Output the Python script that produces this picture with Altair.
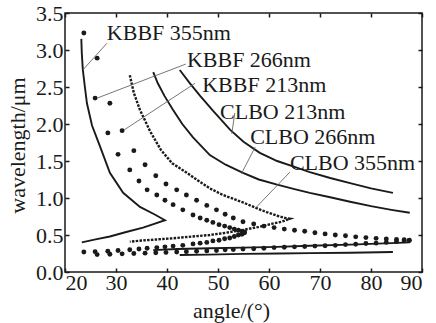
import altair as alt
import pandas as pd

# ---------------- values (angle in degrees, wavelength in µm) ----------------
# KBBF 355nm (solid): idler branch down to the degeneracy point, then signal branch back
kbbf355_angle = [23.2, 23.3, 23.5, 23.9, 24.3, 25.3, 26.9, 28.8, 31.4, 34.7, 37.5, 39.6,
                 37.5, 35.3, 32.0, 28.8, 26.0, 23.3]
kbbf355_wl = [3.15, 2.95, 2.73, 2.50, 2.28, 1.98, 1.69, 1.34, 1.07, 0.88, 0.78, 0.70,
              0.65, 0.60, 0.54, 0.48, 0.44, 0.40]

# KBBF 266nm (dots)
kbbf266_angle = [23.7, 25.9, 28.4, 30.4, 32.7, 34.5, 36.1, 38.0, 39.6, 41.2, 43.1, 45.1,
                 46.5, 47.8, 49.0, 50.2, 51.3, 52.3, 53.2, 54.0, 54.7, 55.2]
kbbf266_wl_upper = [3.23, 2.35, 1.88, 1.59, 1.38, 1.23, 1.11, 1.04, 0.97, 0.91, 0.84, 0.77,
                    0.73, 0.70, 0.67, 0.64, 0.62, 0.60, 0.58, 0.565, 0.55, 0.54]
kbbf266_wl_lower = [0.27, 0.275, 0.28, 0.29, 0.30, 0.31, 0.32, 0.33, 0.34, 0.35, 0.36, 0.38,
                    0.39, 0.40, 0.42, 0.43, 0.45, 0.46, 0.48, 0.50, 0.51, 0.53]

# KBBF 213nm (dots)
kbbf213_angle = [26.3, 28.8, 31.2, 33.5, 35.7, 37.8, 39.8, 41.9, 43.8, 45.8, 47.8, 49.7,
                 51.4, 53.0, 54.9, 57.0, 59.0, 61.0, 63.0, 65.0, 67.0, 69.0, 71.0, 73.0,
                 75.0, 77.0, 79.0, 81.0, 83.0, 85.0, 86.5, 87.5]
kbbf213_wl_upper = [2.89, 2.28, 1.91, 1.64, 1.45, 1.30, 1.19, 1.11, 1.04, 0.97, 0.90, 0.84,
                    0.78, 0.73, 0.68, 0.65, 0.62, 0.60, 0.58, 0.565, 0.55, 0.53, 0.515, 0.50,
                    0.49, 0.475, 0.465, 0.455, 0.445, 0.44, 0.435, 0.43]
kbbf213_wl_lower = [0.235, 0.24, 0.245, 0.25, 0.255, 0.26, 0.265, 0.27, 0.275, 0.28, 0.285, 0.29,
                    0.30, 0.305, 0.31, 0.315, 0.32, 0.33, 0.335, 0.34, 0.345, 0.35, 0.355, 0.36,
                    0.37, 0.375, 0.385, 0.39, 0.40, 0.41, 0.42, 0.425]

# CLBO 355nm (fine dashed): upper branch to the tip, then lower branch back
clbo355_angle = [32.7, 33.5, 34.7, 36.7, 38.8, 41.0, 43.9, 46.0, 48.4, 51.0, 54.9, 57.3,
                 59.5, 61.6, 63.2, 64.1,
                 62.5, 60.5, 58.0, 55.0, 51.5, 48.4, 45.0, 41.0, 38.0, 35.0, 32.7]
clbo355_wl = [2.66, 2.42, 2.19, 1.90, 1.65, 1.47, 1.34, 1.24, 1.13, 1.04, 0.94, 0.87,
              0.81, 0.76, 0.73, 0.72,
              0.68, 0.65, 0.61, 0.57, 0.53, 0.50, 0.48, 0.455, 0.44, 0.425, 0.41]

# CLBO 266nm (solid)
clbo266_angle_upper = [37.3, 38.2, 39.5, 41.2, 43.0, 45.1, 48.4, 51.5, 54.9, 58.0, 61.6, 65.0,
                       68.0, 72.0, 75.9, 80.0, 84.0, 87.6]
clbo266_wl_upper = [2.70, 2.55, 2.38, 2.19, 2.00, 1.82, 1.58, 1.45, 1.34, 1.25, 1.18, 1.12,
                    1.07, 1.01, 0.95, 0.89, 0.84, 0.80]
clbo266_angle_lower = [37.3, 42.0, 48.4, 54.9, 61.6, 68.0, 75.9, 80.0, 84.0, 87.6]
clbo266_wl_lower = [0.295, 0.31, 0.32, 0.33, 0.34, 0.355, 0.37, 0.38, 0.39, 0.40]

# CLBO 213nm (solid)
clbo213_angle_upper = [42.5, 44.5, 46.5, 49.0, 52.4, 55.0, 58.2, 61.6, 65.0, 68.0, 72.0, 75.9,
                       80.0, 84.3]
clbo213_wl_upper = [2.73, 2.55, 2.38, 2.18, 1.92, 1.76, 1.61, 1.50, 1.42, 1.35, 1.27, 1.20,
                    1.13, 1.07]
clbo213_angle_lower = [42.5, 48.0, 55.0, 62.0, 68.0, 76.0, 84.3]
clbo213_wl_lower = [0.23, 0.235, 0.245, 0.25, 0.255, 0.26, 0.27]

# annotations
label_text = ["KBBF 355nm", "KBBF 266nm", "KBBF 213nm", "CLBO 213nm", "CLBO 266nm", "CLBO 355nm"]
label_angle = [28.2, 43.9, 46.9, 50.4, 56.3, 64.1]
label_wl = [3.23, 2.86, 2.53, 2.16, 1.82, 1.47]
pointer_from_angle = [28.2, 43.7, 45.5, 53.3, 57.3, 64.1]
pointer_from_wl = [3.09, 2.81, 2.55, 2.15, 1.69, 1.35]
pointer_to_angle = [23.5, 26.3, 31.6, 52.7, 54.6, 57.3]
pointer_to_wl = [2.73, 2.35, 1.92, 1.87, 1.33, 0.86]

x_ticks = [20, 30, 40, 50, 60, 70, 80, 90]
y_ticks = [0.0, 0.5, 1.0, 1.5, 2.0, 2.5, 3.0, 3.5]

# ---------------- tables ----------------
def seg(key, angles, wls):
    return pd.DataFrame({"key": key, "angle": angles, "wl": wls, "order": list(range(len(angles)))})

solid_df = pd.concat([
    seg("KBBF 355nm", kbbf355_angle, kbbf355_wl),
    seg("CLBO 266nm upper", clbo266_angle_upper, clbo266_wl_upper),
    seg("CLBO 266nm lower", clbo266_angle_lower, clbo266_wl_lower),
    seg("CLBO 213nm upper", clbo213_angle_upper, clbo213_wl_upper),
    seg("CLBO 213nm lower", clbo213_angle_lower, clbo213_wl_lower),
])
dash_df = seg("CLBO 355nm", clbo355_angle, clbo355_wl)
dots_df = pd.concat([
    seg("KBBF 266nm upper", kbbf266_angle, kbbf266_wl_upper),
    seg("KBBF 266nm lower", kbbf266_angle, kbbf266_wl_lower),
    seg("KBBF 213nm upper", kbbf213_angle, kbbf213_wl_upper),
    seg("KBBF 213nm lower", kbbf213_angle, kbbf213_wl_lower),
])
label_df = pd.DataFrame({"text": label_text, "angle": label_angle, "wl": label_wl})
pointer_df = pd.DataFrame({"a1": pointer_from_angle, "w1": pointer_from_wl,
                           "a2": pointer_to_angle, "w2": pointer_to_wl})
tick_df = pd.DataFrame({"angle": x_ticks, "wl": y_ticks})

FONT = "Times New Roman, Liberation Serif, Tinos, DejaVu Serif, serif"
INK = "#1a1a1a"
xs = alt.Scale(domain=[20, 90], nice=False, zero=False)
ys = alt.Scale(domain=[0, 3.5], nice=False, zero=False)

x_main = alt.X("angle:Q", scale=xs, axis=alt.Axis(
    orient="bottom", values=x_ticks, offset=-4, tickSize=4, tickWidth=1.5, tickColor=INK,
    domain=False, grid=False, labelFont=FONT, labelFontSize=22, labelColor=INK,
    labelPadding=0, title="angle/(°)", titleFont=FONT, titleFontSize=22,
    titleFontWeight="normal", titleColor=INK, titleX=166, titleY=42,
    titleAlign="center", titleBaseline="middle"))
y_main = alt.Y("wl:Q", scale=ys, axis=alt.Axis(
    orient="left", values=y_ticks, format=".1f", offset=-4, tickSize=4, tickWidth=1.5,
    tickColor=INK, domain=False, grid=False, labelFont=FONT, labelFontSize=22,
    labelColor=INK, labelPadding=2, title="wavelength/μm", titleFont=FONT,
    titleFontSize=22, titleFontWeight="normal", titleColor=INK, titleX=-52, titleY=132,
    titleAlign="center", titleBaseline="middle", titleAngle=270))

solid = alt.Chart(solid_df).mark_line(color=INK, strokeWidth=1.9).encode(
    x=x_main, y=y_main, detail="key:N", order="order:Q")

x_plain = alt.X("angle:Q", scale=xs, axis=None)
y_plain = alt.Y("wl:Q", scale=ys, axis=None)

dashed = alt.Chart(dash_df).mark_line(color=INK, strokeWidth=2.4, strokeDash=[2.5, 1.3]).encode(
    x=x_plain, y=y_plain, order="order:Q")
dots = alt.Chart(dots_df).mark_circle(color=INK, size=24, opacity=1).encode(
    x=x_plain, y=y_plain)
pointers = alt.Chart(pointer_df).mark_rule(color="#666", strokeWidth=0.9).encode(
    x=alt.X("a1:Q", scale=xs, axis=None), y=alt.Y("w1:Q", scale=ys, axis=None),
    x2="a2:Q", y2="w2:Q")
labels = alt.Chart(label_df).mark_text(
    align="left", baseline="middle", font=FONT, fontSize=22, color=INK).encode(
    x=x_plain, y=y_plain, text="text:N")

inner_ticks = alt.Chart(tick_df).mark_point(opacity=0).encode(
    x=alt.X("angle:Q", scale=xs, axis=alt.Axis(
        orient="top", values=x_ticks, offset=-4, tickSize=4, tickWidth=1.5, tickColor=INK,
        labels=False, domain=False, grid=False, title=None)),
    y=alt.Y("wl:Q", scale=ys, axis=alt.Axis(
        orient="right", values=y_ticks, offset=-4, tickSize=4, tickWidth=1.5, tickColor=INK,
        labels=False, domain=False, grid=False, title=None)),
)

chart = alt.layer(solid, dashed, dots, pointers, labels, inner_ticks).resolve_axis(
    x="independent", y="independent"
).properties(
    width=357, height=259,
    padding={"left": 65, "top": 13, "right": 14, "bottom": 51},
    autosize=alt.AutoSizeParams(type="none"),
    background="white",
).configure_view(stroke=INK, strokeWidth=1.5)

chart.save("out.html", embed_options={"renderer": "svg", "actions": False})
